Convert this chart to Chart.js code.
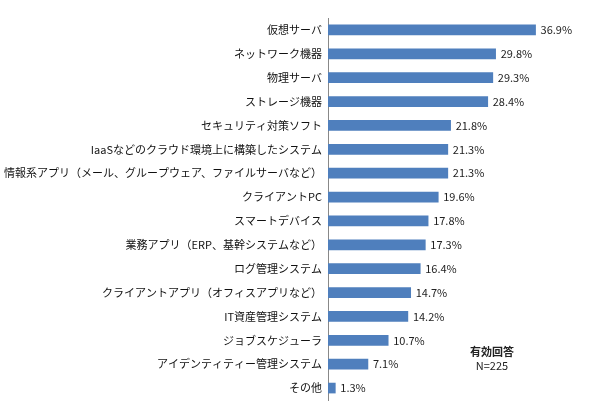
<!DOCTYPE html>
<html><head><meta charset="utf-8">
<script src="https://cdn.jsdelivr.net/npm/chart.js"></script>
<style>body{margin:0;background:#fff}#w{width:590px;height:415px;position:relative}</style>
</head><body><div id="w"><canvas id="c"></canvas></div>
<script>
const categories=["仮想サーバ","ネットワーク機器","物理サーバ","ストレージ機器","セキュリティ対策ソフト","IaaSなどのクラウド環境上に構築したシステム","情報系アプリ（メール、グループウェア、ファイルサーバなど）","クライアントPC","スマートデバイス","業務アプリ（ERP、基幹システムなど）","ログ管理システム","クライアントアプリ（オフィスアプリなど）","IT資産管理システム","ジョブスケジューラ","アイデンティティー管理システム","その他"];
const values=[36.9,29.8,29.3,28.4,21.8,21.3,21.3,19.6,17.8,17.3,16.4,14.7,14.2,10.7,7.1,1.3];
const font="'Noto Sans CJK JP','Noto Sans',sans-serif";
const labels={id:'labels',afterDatasetsDraw(ch){const c=ch.ctx;const m=ch.getDatasetMeta(0);c.save();c.font="11px "+font;c.fillStyle="#222";c.textBaseline="middle";
m.data.forEach((b,i)=>c.fillText(values[i].toFixed(1)+"%",b.x+5,b.y));
c.font="bold 11px "+font;c.textAlign="center";c.fillText("有効回答",492,352);c.font="11px "+font;c.fillText("N=225",492,366);c.restore();}};
new Chart(document.getElementById('c'),{type:'bar',data:{labels:categories,datasets:[{data:values,backgroundColor:'#4f7fbd',barThickness:10}]},
options:{indexAxis:'y',responsive:true,maintainAspectRatio:false,animation:false,
layout:{padding:{top:18,right:37,bottom:15,left:0}},
plugins:{legend:{display:false},tooltip:{enabled:false}},
scales:{x:{min:0,max:40,display:false},
y:{afterFit(s){s.width=328;},grid:{display:false,drawTicks:false},border:{display:true,color:'#888'},ticks:{color:'#111',font:{size:11,family:font},padding:6}}}},
plugins:[labels]});
</script></body></html>
